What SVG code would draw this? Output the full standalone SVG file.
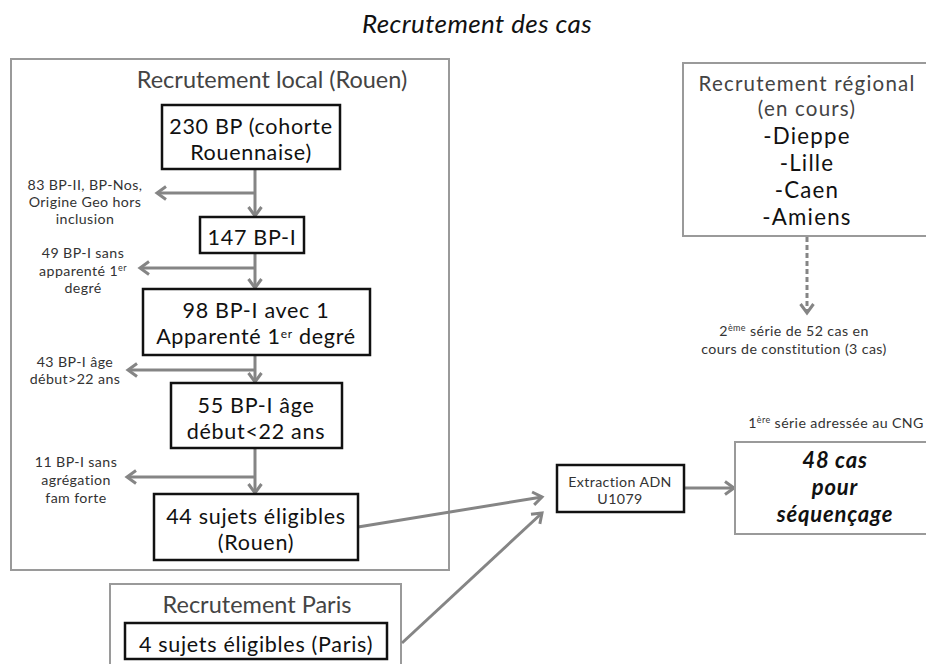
<svg xmlns="http://www.w3.org/2000/svg" width="926" height="664" viewBox="0 0 926 664">
<defs>
<style>
text{font-family:Lato,"Open Sans","Liberation Sans",sans-serif;text-anchor:middle}
.title{font-size:26px;font-style:italic;fill:#111;letter-spacing:0.4px}
.gbox{fill:#fff;stroke:#9a9a9a;stroke-width:2}
.bbox{fill:#fff;stroke:#111;stroke-width:2.5}
.gtitle{font-size:23.5px;fill:#444}
.rtitle{font-size:20.5px;fill:#444;letter-spacing:1.2px}
.big{font-size:21.5px;fill:#111;letter-spacing:0.7px}
.city{font-size:22.3px;fill:#111;letter-spacing:1.2px}
.small{font-size:14.2px;fill:#333;letter-spacing:0.4px}
.bold{font-size:22px;font-weight:bold;font-style:italic;fill:#111;letter-spacing:0.8px}
.conn{stroke:#858585;stroke-width:3;fill:none}
.dash{stroke:#858585;stroke-width:3;fill:none;stroke-dasharray:5,3}
</style>
<marker id="ah" markerUnits="userSpaceOnUse" markerWidth="18" markerHeight="18" viewBox="0 0 18 18" refX="14" refY="9" orient="auto">
<path d="M5,2.5 L14,9 L5,15.5" fill="none" stroke="#858585" stroke-width="3"/>
</marker>
</defs>
<rect width="926" height="664" fill="#fff"/>
<text class="title" x="477" y="33">Recrutement des cas</text>

<g id="local">
<rect class="gbox" x="11" y="59" width="438" height="511"/>
<text class="gtitle" x="272" y="88">Recrutement local (Rouen)</text>
</g>
<g id="regional">
<rect class="gbox" x="683" y="63" width="260" height="173"/>
<text class="rtitle" x="807" y="91">Recrutement régional</text>
<text class="rtitle" x="807" y="116">(en cours)</text>
<text class="city" x="807" y="144">-Dieppe</text>
<text class="city" x="807" y="171">-Lille</text>
<text class="city" x="807" y="198">-Caen</text>
<text class="city" x="807" y="225">-Amiens</text>
</g>
<g id="paris">
<rect class="gbox" x="110" y="584" width="291" height="100"/>
<text class="gtitle" x="257" y="613">Recrutement Paris</text>
</g>

<g id="connectors">
<line class="conn" x1="255" y1="169" x2="255" y2="216" marker-end="url(#ah)"/>
<line class="conn" x1="255" y1="193" x2="157" y2="193" marker-end="url(#ah)"/>
<line class="conn" x1="255" y1="253" x2="255" y2="288" marker-end="url(#ah)"/>
<line class="conn" x1="255" y1="268" x2="140" y2="268" marker-end="url(#ah)"/>
<line class="conn" x1="255" y1="355" x2="255" y2="382" marker-end="url(#ah)"/>
<line class="conn" x1="255" y1="370" x2="128" y2="370" marker-end="url(#ah)"/>
<line class="conn" x1="255" y1="448" x2="255" y2="493" marker-end="url(#ah)"/>
<line class="conn" x1="255" y1="477" x2="127" y2="477" marker-end="url(#ah)"/>
<line class="conn" x1="358" y1="527" x2="542" y2="497" marker-end="url(#ah)"/>
<line class="conn" x1="402" y1="643" x2="542" y2="513" marker-end="url(#ah)"/>
<line class="conn" x1="684" y1="488" x2="734" y2="488" marker-end="url(#ah)"/>
<line class="dash" x1="807" y1="237" x2="807" y2="313" marker-end="url(#ah)"/>
</g>

<g id="n230">
<rect class="bbox" x="162" y="105" width="178" height="64"/>
<text class="big" x="251" y="134">230 BP (cohorte</text>
<text class="big" x="251" y="160">Rouennaise)</text>
</g>
<g id="l83">
<text class="small" x="85" y="190">83 BP-II, BP-Nos,</text>
<text class="small" x="85" y="207">Origine Geo hors</text>
<text class="small" x="85" y="224">inclusion</text>
</g>
<g id="n147">
<rect class="bbox" x="200" y="217" width="104" height="36"/>
<text class="big" x="252" y="245">147 BP-I</text>
</g>
<g id="l49">
<text class="small" x="83" y="258">49 BP-I sans</text>
<text class="small" x="83" y="276">apparenté 1<tspan font-size="9" dy="-5">er</tspan></text>
<text class="small" x="83" y="293">degré</text>
</g>
<g id="n98">
<rect class="bbox" x="143" y="289" width="227" height="66"/>
<text class="big" x="256" y="318">98 BP-I avec 1</text>
<text class="big" x="256" y="344">Apparenté 1<tspan font-size="12" dy="-6">er</tspan><tspan dy="6"> degré</tspan></text>
</g>
<g id="l43">
<text class="small" x="75" y="367">43 BP-I âge</text>
<text class="small" x="75" y="384">début&gt;22 ans</text>
</g>
<g id="n55">
<rect class="bbox" x="171" y="383" width="171" height="65"/>
<text class="big" x="256" y="413">55 BP-I âge</text>
<text class="big" x="256" y="439">début&lt;22 ans</text>
</g>
<g id="l11">
<text class="small" x="76" y="467">11 BP-I sans</text>
<text class="small" x="76" y="485">agrégation</text>
<text class="small" x="76" y="503">fam forte</text>
</g>
<g id="n44">
<rect class="bbox" x="154" y="494" width="204" height="66"/>
<text class="big" x="256" y="524">44 sujets éligibles</text>
<text class="big" x="256" y="550">(Rouen)</text>
</g>
<g id="n4">
<rect class="bbox" x="125" y="623" width="262" height="36"/>
<text class="big" x="256" y="652">4 sujets éligibles (Paris)</text>
</g>
<g id="extraction">
<rect class="bbox" x="557" y="465" width="127" height="47"/>
<text class="small" x="620" y="487">Extraction ADN</text>
<text class="small" x="620" y="504">U1079</text>
</g>
<g id="serie2">
<text class="small" x="794" y="336">2<tspan font-size="9" dy="-5">ème</tspan><tspan dy="5"> série de 52 cas en</tspan></text>
<text class="small" x="794" y="354">cours de constitution (3 cas)</text>
</g>
<g id="n48">
<text class="small" x="836" y="428">1<tspan font-size="9" dy="-5">ère</tspan><tspan dy="5"> série adressée au CNG</tspan></text>
<rect class="gbox" x="735" y="442" width="210" height="92" stroke-width="2.5"/>
<text class="bold" x="835" y="468">48 cas</text>
<text class="bold" x="835" y="495">pour</text>
<text class="bold" x="835" y="522">séquençage</text>
</g>
</svg>
